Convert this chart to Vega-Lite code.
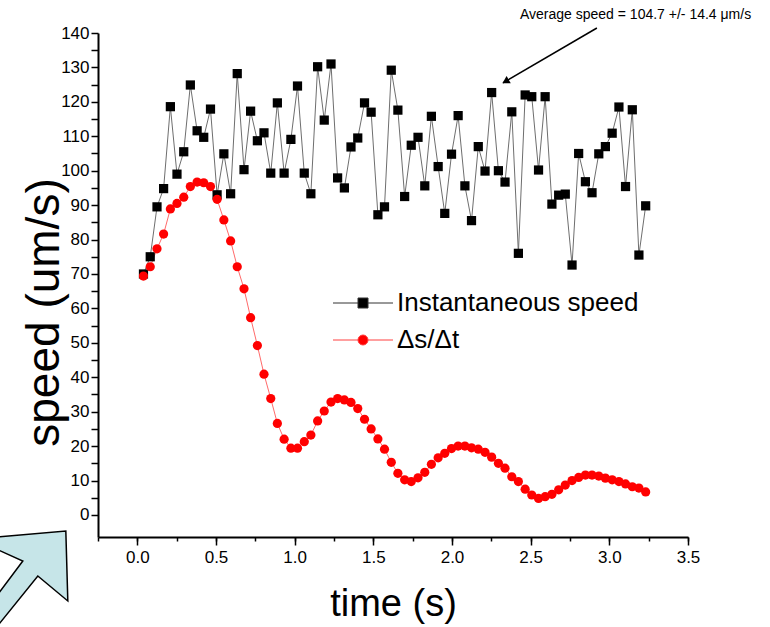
{
  "$schema": "https://vega.github.io/schema/vega-lite/v6.json",
  "autosize": "none",
  "width": 590,
  "height": 504,
  "padding": {"left": 98, "top": 33, "right": 82, "bottom": 90},
  "background": "white",
  "config": {"view": {"stroke": null}, "axis": {"grid": false}},
  "datasets": {
    "speed": [
      {"t":0.039,"v":70.0,"s":"Instantaneous speed"},{"t":0.082,"v":75.0,"s":"Instantaneous speed"},{"t":0.125,"v":89.5,"s":"Instantaneous speed"},{"t":0.167,"v":94.8,"s":"Instantaneous speed"},{"t":0.210,"v":118.6,"s":"Instantaneous speed"},{"t":0.252,"v":99.0,"s":"Instantaneous speed"},{"t":0.295,"v":105.5,"s":"Instantaneous speed"},{"t":0.337,"v":124.9,"s":"Instantaneous speed"},{"t":0.380,"v":111.6,"s":"Instantaneous speed"},{"t":0.422,"v":109.7,"s":"Instantaneous speed"},
      {"t":0.465,"v":117.9,"s":"Instantaneous speed"},{"t":0.507,"v":93.0,"s":"Instantaneous speed"},{"t":0.550,"v":104.9,"s":"Instantaneous speed"},{"t":0.593,"v":93.3,"s":"Instantaneous speed"},{"t":0.635,"v":128.2,"s":"Instantaneous speed"},{"t":0.678,"v":100.3,"s":"Instantaneous speed"},{"t":0.720,"v":117.3,"s":"Instantaneous speed"},{"t":0.763,"v":108.7,"s":"Instantaneous speed"},{"t":0.805,"v":111.0,"s":"Instantaneous speed"},{"t":0.848,"v":99.3,"s":"Instantaneous speed"},
      {"t":0.890,"v":119.7,"s":"Instantaneous speed"},{"t":0.933,"v":99.3,"s":"Instantaneous speed"},{"t":0.976,"v":109.1,"s":"Instantaneous speed"},{"t":1.018,"v":124.6,"s":"Instantaneous speed"},{"t":1.061,"v":99.3,"s":"Instantaneous speed"},{"t":1.103,"v":93.3,"s":"Instantaneous speed"},{"t":1.146,"v":130.2,"s":"Instantaneous speed"},{"t":1.188,"v":114.7,"s":"Instantaneous speed"},{"t":1.231,"v":131.0,"s":"Instantaneous speed"},{"t":1.273,"v":97.9,"s":"Instantaneous speed"},
      {"t":1.316,"v":95.0,"s":"Instantaneous speed"},{"t":1.358,"v":106.9,"s":"Instantaneous speed"},{"t":1.401,"v":109.5,"s":"Instantaneous speed"},{"t":1.444,"v":119.7,"s":"Instantaneous speed"},{"t":1.486,"v":117.0,"s":"Instantaneous speed"},{"t":1.529,"v":87.2,"s":"Instantaneous speed"},{"t":1.571,"v":89.5,"s":"Instantaneous speed"},{"t":1.614,"v":129.2,"s":"Instantaneous speed"},{"t":1.656,"v":117.6,"s":"Instantaneous speed"},{"t":1.699,"v":92.5,"s":"Instantaneous speed"},
      {"t":1.741,"v":107.4,"s":"Instantaneous speed"},{"t":1.784,"v":109.7,"s":"Instantaneous speed"},{"t":1.827,"v":95.6,"s":"Instantaneous speed"},{"t":1.869,"v":115.8,"s":"Instantaneous speed"},{"t":1.912,"v":101.2,"s":"Instantaneous speed"},{"t":1.954,"v":87.6,"s":"Instantaneous speed"},{"t":1.997,"v":104.8,"s":"Instantaneous speed"},{"t":2.039,"v":116.0,"s":"Instantaneous speed"},{"t":2.082,"v":95.6,"s":"Instantaneous speed"},{"t":2.124,"v":85.5,"s":"Instantaneous speed"},
      {"t":2.167,"v":107.0,"s":"Instantaneous speed"},{"t":2.210,"v":99.9,"s":"Instantaneous speed"},{"t":2.252,"v":122.7,"s":"Instantaneous speed"},{"t":2.295,"v":100.0,"s":"Instantaneous speed"},{"t":2.337,"v":96.7,"s":"Instantaneous speed"},{"t":2.380,"v":117.1,"s":"Instantaneous speed"},{"t":2.422,"v":76.0,"s":"Instantaneous speed"},{"t":2.465,"v":122.0,"s":"Instantaneous speed"},{"t":2.507,"v":121.5,"s":"Instantaneous speed"},{"t":2.550,"v":100.2,"s":"Instantaneous speed"},
      {"t":2.592,"v":121.5,"s":"Instantaneous speed"},{"t":2.635,"v":90.3,"s":"Instantaneous speed"},{"t":2.678,"v":92.9,"s":"Instantaneous speed"},{"t":2.720,"v":93.2,"s":"Instantaneous speed"},{"t":2.763,"v":72.6,"s":"Instantaneous speed"},{"t":2.805,"v":105.0,"s":"Instantaneous speed"},{"t":2.848,"v":96.8,"s":"Instantaneous speed"},{"t":2.890,"v":93.6,"s":"Instantaneous speed"},{"t":2.933,"v":104.9,"s":"Instantaneous speed"},{"t":2.975,"v":107.0,"s":"Instantaneous speed"},
      {"t":3.018,"v":110.9,"s":"Instantaneous speed"},{"t":3.061,"v":118.5,"s":"Instantaneous speed"},{"t":3.103,"v":95.4,"s":"Instantaneous speed"},{"t":3.146,"v":117.7,"s":"Instantaneous speed"},{"t":3.188,"v":75.5,"s":"Instantaneous speed"},{"t":3.231,"v":89.8,"s":"Instantaneous speed"},
      {"t":0.039,"v":69.4,"s":"Δs/Δt"},{"t":0.082,"v":72.1,"s":"Δs/Δt"},{"t":0.125,"v":77.3,"s":"Δs/Δt"},{"t":0.167,"v":81.6,"s":"Δs/Δt"},{"t":0.210,"v":88.9,"s":"Δs/Δt"},{"t":0.252,"v":90.5,"s":"Δs/Δt"},{"t":0.295,"v":92.3,"s":"Δs/Δt"},{"t":0.337,"v":95.4,"s":"Δs/Δt"},{"t":0.380,"v":96.7,"s":"Δs/Δt"},{"t":0.422,"v":96.5,"s":"Δs/Δt"},
      {"t":0.465,"v":95.4,"s":"Δs/Δt"},{"t":0.507,"v":91.7,"s":"Δs/Δt"},{"t":0.550,"v":85.7,"s":"Δs/Δt"},{"t":0.593,"v":79.6,"s":"Δs/Δt"},{"t":0.635,"v":72.1,"s":"Δs/Δt"},{"t":0.678,"v":65.7,"s":"Δs/Δt"},{"t":0.720,"v":57.3,"s":"Δs/Δt"},{"t":0.763,"v":49.2,"s":"Δs/Δt"},{"t":0.805,"v":40.9,"s":"Δs/Δt"},{"t":0.848,"v":33.8,"s":"Δs/Δt"},
      {"t":0.890,"v":26.6,"s":"Δs/Δt"},{"t":0.933,"v":22.0,"s":"Δs/Δt"},{"t":0.976,"v":19.4,"s":"Δs/Δt"},{"t":1.018,"v":19.4,"s":"Δs/Δt"},{"t":1.061,"v":21.3,"s":"Δs/Δt"},{"t":1.103,"v":23.2,"s":"Δs/Δt"},{"t":1.146,"v":27.3,"s":"Δs/Δt"},{"t":1.188,"v":30.2,"s":"Δs/Δt"},{"t":1.231,"v":32.8,"s":"Δs/Δt"},{"t":1.273,"v":33.8,"s":"Δs/Δt"},
      {"t":1.316,"v":33.4,"s":"Δs/Δt"},{"t":1.358,"v":32.7,"s":"Δs/Δt"},{"t":1.401,"v":30.9,"s":"Δs/Δt"},{"t":1.444,"v":27.8,"s":"Δs/Δt"},{"t":1.486,"v":25.0,"s":"Δs/Δt"},{"t":1.529,"v":22.1,"s":"Δs/Δt"},{"t":1.571,"v":19.1,"s":"Δs/Δt"},{"t":1.614,"v":15.3,"s":"Δs/Δt"},{"t":1.656,"v":12.1,"s":"Δs/Δt"},{"t":1.699,"v":10.2,"s":"Δs/Δt"},
      {"t":1.741,"v":9.7,"s":"Δs/Δt"},{"t":1.784,"v":10.8,"s":"Δs/Δt"},{"t":1.827,"v":12.4,"s":"Δs/Δt"},{"t":1.869,"v":14.7,"s":"Δs/Δt"},{"t":1.912,"v":16.6,"s":"Δs/Δt"},{"t":1.954,"v":17.9,"s":"Δs/Δt"},{"t":1.997,"v":19.3,"s":"Δs/Δt"},{"t":2.039,"v":20.0,"s":"Δs/Δt"},{"t":2.082,"v":20.0,"s":"Δs/Δt"},{"t":2.124,"v":19.5,"s":"Δs/Δt"},
      {"t":2.167,"v":19.1,"s":"Δs/Δt"},{"t":2.210,"v":18.2,"s":"Δs/Δt"},{"t":2.252,"v":16.8,"s":"Δs/Δt"},{"t":2.295,"v":15.0,"s":"Δs/Δt"},{"t":2.337,"v":13.6,"s":"Δs/Δt"},{"t":2.380,"v":11.1,"s":"Δs/Δt"},{"t":2.422,"v":9.7,"s":"Δs/Δt"},{"t":2.465,"v":7.5,"s":"Δs/Δt"},{"t":2.507,"v":5.8,"s":"Δs/Δt"},{"t":2.550,"v":4.8,"s":"Δs/Δt"},
      {"t":2.592,"v":5.3,"s":"Δs/Δt"},{"t":2.635,"v":6.0,"s":"Δs/Δt"},{"t":2.678,"v":7.3,"s":"Δs/Δt"},{"t":2.720,"v":8.7,"s":"Δs/Δt"},{"t":2.763,"v":10.0,"s":"Δs/Δt"},{"t":2.805,"v":10.9,"s":"Δs/Δt"},{"t":2.848,"v":11.6,"s":"Δs/Δt"},{"t":2.890,"v":11.6,"s":"Δs/Δt"},{"t":2.933,"v":11.3,"s":"Δs/Δt"},{"t":2.975,"v":10.7,"s":"Δs/Δt"},
      {"t":3.018,"v":10.2,"s":"Δs/Δt"},{"t":3.061,"v":9.7,"s":"Δs/Δt"},{"t":3.103,"v":9.0,"s":"Δs/Δt"},{"t":3.146,"v":8.2,"s":"Δs/Δt"},{"t":3.188,"v":7.8,"s":"Δs/Δt"},{"t":3.231,"v":6.7,"s":"Δs/Δt"}
    ],
    "bluearrow": [
      {"k":0,"t":-0.4545,"v":-4.65},{"k":1,"t":-0.4418,"v":-24.98},{"k":2,"t":-0.6325,"v":-17.72},{"k":3,"t":-1.001,"v":-38.63},{"k":4,"t":-1.103,"v":-36.3},{"k":5,"t":-0.7279,"v":-13.36},{"k":6,"t":-1.039,"v":-6.97}
    ],
    "note": [{"t":2.432,"v":145.2,"label":"Average speed = 104.7 +/- 14.4 μm/s"}],
    "pointer": [{"t":2.921,"v":141.45,"t2":2.324,"v2":125.5}],
    "head": [{"t":2.347,"v":126.1}]
  },
  "resolve": {"axis": {"x": "independent"}},
  "encoding": {
    "x": {"field": "t", "type": "quantitative", "axis": null,
      "scale": {"domain": [-0.25, 3.5], "nice": false, "zero": false}},
    "y": {"field": "v", "type": "quantitative",
      "scale": {"domain": [-6.4, 140], "nice": false, "zero": false},
      "axis": {
        "values": [0,5,10,15,20,25,30,35,40,45,50,55,60,65,70,75,80,85,90,95,100,105,110,115,120,125,130,135,140],
        "labelExpr": "datum.value % 10 === 0 ? datum.label : ''",
        "labelOverlap": false,
        "tickSize": 7,
        "labelFont": "Liberation Sans", "labelFontSize": 17, "labelPadding": 2, "labelColor": "black",
        "title": "speed (um/s)", "titleFont": "Liberation Sans", "titleFontSize": 46, "titleFontWeight": "normal", "titleColor": "black",
        "titleBaseline": "alphabetic", "titleX": -40, "titleY": 279, "titleAngle": 270,
        "domainColor": "black", "domainWidth": 2, "tickColor": "black", "tickWidth": 1.5, "grid": false
      }
    }
  },
  "layer": [
    {
      "data": {"name": "bluearrow"},
      "mark": {"type": "line", "interpolate": "linear-closed", "fill": "#c6e5e8", "stroke": "black", "strokeWidth": 1.5, "clip": false},
      "encoding": {
        "x": {"field": "t", "type": "quantitative",
          "scale": {"domain": [-0.25, 3.5], "nice": false, "zero": false},
          "axis": {
            "orient": "bottom",
            "values": [-0.25,0,0.25,0.5,0.75,1,1.25,1.5,1.75,2,2.25,2.5,2.75,3,3.25,3.5],
            "labels": false, "title": null, "tickSize": 4,
            "domainColor": "black", "domainWidth": 2, "tickColor": "black", "tickWidth": 1.5, "grid": false
          }
        },
        "order": {"field": "k", "type": "quantitative"}
      }
    },
    {
      "data": {"name": "speed"},
      "transform": [{"filter": "datum.s === 'Instantaneous speed'"}],
      "mark": {"type": "line", "color": "#6e6e6e", "strokeWidth": 1},
      "encoding": {
        "x": {"field": "t", "type": "quantitative",
          "scale": {"domain": [-0.25, 3.5], "nice": false, "zero": false},
          "axis": {
            "orient": "bottom",
            "values": [0,0.5,1,1.5,2,2.5,3,3.5],
            "format": ".1f", "labelOverlap": false, "labelFlush": false,
            "tickSize": 8, "domain": false,
            "labelFont": "Liberation Sans", "labelFontSize": 17, "labelPadding": 4, "labelColor": "black",
            "title": "time (s)", "titleFont": "Liberation Sans", "titleFontSize": 38, "titleFontWeight": "normal", "titleColor": "black",
            "titleBaseline": "alphabetic", "titleY": 78,
            "tickColor": "black", "tickWidth": 1.5, "grid": false
          }
        }
      }
    },
    {
      "data": {"name": "speed"},
      "transform": [{"filter": "datum.s !== 'Instantaneous speed'"}],
      "mark": {"type": "line", "color": "#ff6a6a", "strokeWidth": 1}
    },
    {
      "data": {"name": "speed"},
      "transform": [{"filter": "datum.s === 'Instantaneous speed'"}],
      "mark": {"type": "point", "shape": "square", "filled": true, "size": 85, "opacity": 1},
      "encoding": {
        "fill": {"field": "s", "type": "nominal",
          "scale": {"domain": ["Instantaneous speed"], "range": ["black"]},
          "legend": {
            "title": null, "orient": "none", "legendX": 252, "legendY": 257,
            "labelFont": "Liberation Sans", "labelFontSize": 26, "labelColor": "black", "labelLimit": 500,
            "labelOffset": 21, "symbolSize": 100, "padding": 0,
            "symbolType": "M-6,0H-1M1,0H6M-1,-1H1V1H-1Z",
            "symbolFillColor": "black", "symbolStrokeColor": "#333333", "symbolStrokeWidth": 1, "symbolOpacity": 1
          }
        }
      }
    },
    {
      "data": {"name": "speed"},
      "transform": [{"filter": "datum.s !== 'Instantaneous speed'"}],
      "mark": {"type": "point", "shape": "circle", "filled": true, "size": 85, "opacity": 1},
      "encoding": {
        "color": {"field": "s", "type": "nominal",
          "scale": {"domain": ["Δs/Δt"], "range": ["#ff0000"]},
          "legend": {
            "title": null, "orient": "none", "legendX": 252, "legendY": 294,
            "labelFont": "Liberation Sans", "labelFontSize": 26, "labelColor": "black", "labelLimit": 500,
            "labelOffset": 21, "symbolSize": 100, "padding": 0,
            "symbolType": "M-6,0H-1M1,0H6M1,0A1,1 0 1,1 -1,0A1,1 0 1,1 1,0Z",
            "symbolFillColor": "#ff0000", "symbolStrokeColor": "#ff4040", "symbolStrokeWidth": 1, "symbolOpacity": 1
          }
        }
      }
    },
    {
      "data": {"name": "pointer"},
      "mark": {"type": "rule", "color": "black", "strokeWidth": 1.5},
      "encoding": {"x2": {"field": "t2"}, "y2": {"field": "v2"}}
    },
    {
      "data": {"name": "head"},
      "mark": {"type": "point", "shape": "triangle", "filled": true, "color": "black", "size": 70, "angle": 240, "opacity": 1}
    },
    {
      "data": {"name": "note"},
      "mark": {"type": "text", "align": "left", "baseline": "middle", "font": "Liberation Sans", "fontSize": 14, "color": "black"},
      "encoding": {"text": {"field": "label"}}
    }
  ]
}
